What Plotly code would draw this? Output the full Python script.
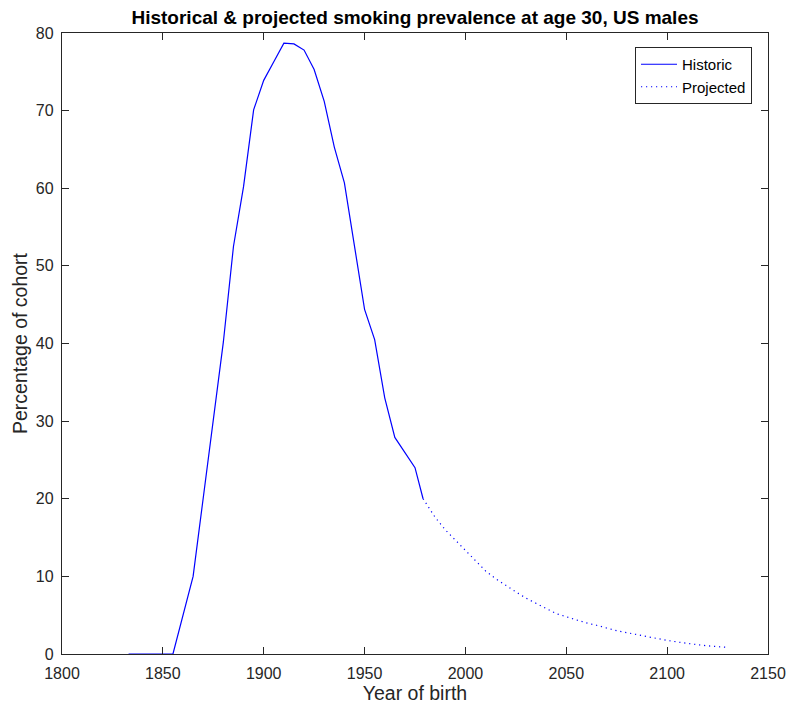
import plotly.graph_objects as go

hist_years = [1833, 1855, 1865, 1880, 1885, 1890, 1895, 1900, 1905, 1910, 1915, 1920,
              1925, 1930, 1935, 1940, 1950, 1955, 1960, 1965, 1975, 1979]
hist_vals = [0, 0, 10.0, 40.2, 52.5, 60.2, 70.1, 73.9, 76.3, 78.7, 78.6, 77.8,
             75.3, 71.2, 65.3, 60.7, 44.4, 40.5, 33.0, 27.9, 24.0, 20.0]

proj_years = [1979, 1985, 1990, 1995, 2000, 2005, 2010, 2015, 2020, 2025, 2030, 2035,
              2040, 2045, 2050, 2055, 2060, 2065, 2070, 2075, 2080, 2085, 2090, 2095,
              2100, 2105, 2110, 2115, 2120, 2125, 2130]
proj_vals = [20.0, 17.6, 16.0, 14.7, 13.4, 12.0, 10.7, 9.7, 8.8, 8.0, 7.2, 6.5,
             5.8, 5.2, 4.8, 4.4, 4.0, 3.7, 3.35, 3.0, 2.75, 2.5, 2.2, 2.0,
             1.75, 1.55, 1.35, 1.2, 1.05, 0.95, 0.85]

x_ticks = [1800, 1850, 1900, 1950, 2000, 2050, 2100, 2150]
y_ticks = [0, 10, 20, 30, 40, 50, 60, 70, 80]

axcol = "#262626"
font = "Liberation Sans, Arial, Helvetica, sans-serif"

fig = go.Figure()
fig.add_trace(go.Scatter(x=hist_years, y=hist_vals, mode="lines", name="Historic",
                         line=dict(color="#0000FF", width=1.2)))
fig.add_trace(go.Scatter(x=proj_years, y=proj_vals, mode="lines", name="Projected",
                         line=dict(color="#0000FF", width=1.2, dash="1.2px,3.8px")))

fig.update_layout(
    width=788, height=706,
    margin=dict(l=62, r=20, t=33, b=52),
    plot_bgcolor="white", paper_bgcolor="white",
    font=dict(family=font, size=16, color=axcol),
    title=dict(text="<b>Historical & projected smoking prevalence at age 30, US males</b>",
               x=(62 + 768) / 2 / 788, xanchor="center", y=1 - 17 / 706, yanchor="middle",
               font=dict(size=19, color="black", family=font)),
    xaxis=dict(range=[1800, 2150], tickvals=x_ticks, ticks="inside", ticklen=7,
               tickcolor=axcol, showline=True, linecolor=axcol, linewidth=1.3,
               mirror="ticks", showgrid=False, zeroline=False, automargin=False,
               ticklabelstandoff=5,
               tickfont=dict(size=16, color=axcol),
               title=dict(text="Year of birth", font=dict(size=19.5, color=axcol), standoff=4)),
    yaxis=dict(range=[0, 80], tickvals=y_ticks, ticks="inside", ticklen=7,
               tickcolor=axcol, showline=True, linecolor=axcol, linewidth=1.3,
               mirror="ticks", showgrid=False, zeroline=False, automargin=False,
               ticklabelstandoff=4,
               tickfont=dict(size=16, color=axcol),
               title=dict(text="Percentage of cohort", font=dict(size=19.5, color=axcol), standoff=3)),
    legend=dict(x=(752 - 62) / 706, xanchor="right", y=(654 - 47) / 621, yanchor="top",
                bgcolor="white", bordercolor=axcol, borderwidth=1,
                font=dict(size=15, color="black"), tracegroupgap=0,
                itemwidth=36),
    showlegend=True,
)

fig.write_html("out.html")
